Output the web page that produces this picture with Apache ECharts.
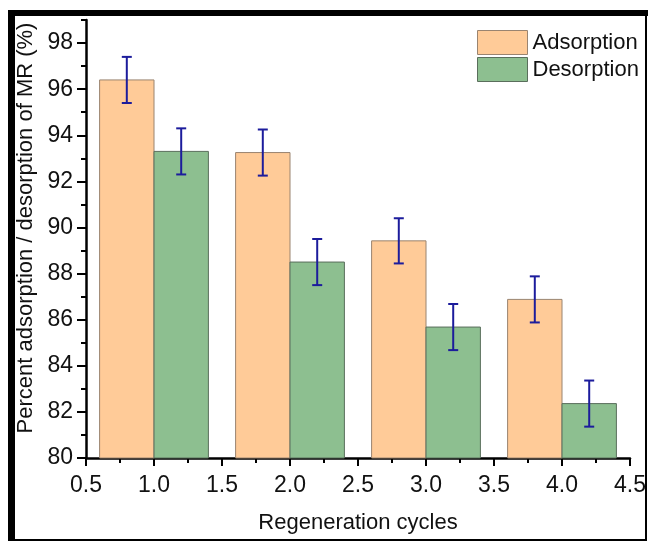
<!DOCTYPE html>
<html>
<head>
<meta charset="utf-8">
<script src="https://cdn.jsdelivr.net/npm/echarts@6/dist/echarts.min.js"></script>
<style>
  html, body { margin: 0; padding: 0; background: #fff; }
  #chart { width: 650px; height: 541px; }
</style>
</head>
<body>
<div id="chart"></div>
<script>
// regeneration cycle data
var adsX = [0.8, 1.8, 2.8, 3.8];
var desX = [1.2, 2.2, 3.2, 4.2];
var adsorption = [96.4, 93.25, 89.42, 86.88];
var desorption = [93.3, 88.5, 85.68, 82.36];
var adsErr = [1.0, 1.0, 0.98, 1.0];
var desErr = [1.0, 1.0, 1.0, 1.0];

var yMajorTicks = [80, 82, 84, 86, 88, 90, 92, 94, 96, 98];

var FONT = 'Liberation Sans';
var BAR_W = 0.4; // width of one bar in x units

function makeRows(xs, ys, errs) {
    var rows = [];
    for (var i = 0; i < xs.length; i++) {
        rows.push([xs[i], ys[i], errs[i]]);
    }
    return rows;
}

function renderBar(params, api) {
    var x = api.value(0);
    var p1 = api.coord([x - BAR_W / 2, api.value(1)]);
    var p2 = api.coord([x + BAR_W / 2, 80]);
    return {
        type: 'rect',
        shape: { x: p1[0], y: p1[1], width: p2[0] - p1[0], height: p2[1] - p1[1] },
        style: api.style()
    };
}

function renderErr(params, api) {
    var x = api.value(0), y = api.value(1), e = api.value(2);
    var top = api.coord([x, y + e]);
    var bot = api.coord([x, y - e]);
    var cap = 5;
    var st = { stroke: '#1c1c9c', lineWidth: 2 };
    return {
        type: 'group',
        children: [
            { type: 'line', shape: { x1: top[0], y1: top[1], x2: bot[0], y2: bot[1] }, style: st },
            { type: 'line', shape: { x1: top[0] - cap, y1: top[1], x2: top[0] + cap, y2: top[1] }, style: st },
            { type: 'line', shape: { x1: bot[0] - cap, y1: bot[1], x2: bot[0] + cap, y2: bot[1] }, style: st }
        ]
    };
}

var chart = echarts.init(document.getElementById('chart'));

var adsStyle = { color: '#FFCB98', borderColor: '#9a8470', borderWidth: 1 };
var desStyle = { color: '#8DBF90', borderColor: '#5a6e5c', borderWidth: 1 };

var option = {
    backgroundColor: '#fff',
    animation: false,
    textStyle: { fontFamily: FONT },
    graphic: [
        { type: 'rect', shape: { x: 8, y: 10, width: 640, height: 6 }, style: { fill: '#000' } },
        { type: 'rect', shape: { x: 8, y: 10, width: 7, height: 531 }, style: { fill: '#000' } },
        { type: 'rect', shape: { x: 645, y: 10, width: 2, height: 531 }, style: { fill: '#000' } },
        { type: 'rect', shape: { x: 8, y: 539, width: 639, height: 2 }, style: { fill: '#000' } }
    ],
    legend: {
        orient: 'vertical',
        left: 472,
        top: 25,
        itemWidth: 50,
        itemHeight: 24,
        itemGap: 2,
        icon: 'rect',
        textStyle: { fontSize: 22, color: '#111', fontFamily: FONT },
        data: [
            { name: 'Adsorption', itemStyle: adsStyle },
            { name: 'Desorption', itemStyle: desStyle }
        ]
    },
    grid: { left: 86, right: 20, top: 20, bottom: 83 },
    xAxis: {
        type: 'value',
        min: 0.5,
        max: 4.5,
        interval: 0.5,
        name: 'Regeneration cycles',
        nameLocation: 'middle',
        nameGap: 54,
        nameTextStyle: { fontSize: 22, color: '#111', fontFamily: FONT },
        axisLine: { show: true, lineStyle: { color: '#000', width: 2.5 } },
        axisTick: { show: true, length: 8, lineStyle: { color: '#000', width: 2 } },
        minorTick: { show: true, splitNumber: 2, length: 5, lineStyle: { color: '#000', width: 2 } },
        axisLabel: {
            fontSize: 23, color: '#111', margin: 16, fontFamily: FONT,
            formatter: function (v) { return v.toFixed(1); }
        },
        splitLine: { show: false }
    },
    yAxis: [
        {
            type: 'value',
            min: 80,
            max: 99,
            interval: 1,
            name: 'Percent adsorption / desorption of MR (%)',
            nameLocation: 'middle',
            nameGap: 49,
            nameTextStyle: { fontSize: 22, color: '#111', fontFamily: FONT, padding: [0, 0, 0, 22] },
            axisLine: { show: true, lineStyle: { color: '#000', width: 2.5 } },
            axisTick: { show: true, length: 5, lineStyle: { color: '#000', width: 2 } },
            axisLabel: {
                fontSize: 23, color: '#111', margin: 13, fontFamily: FONT,
                customValues: yMajorTicks
            },
            splitLine: { show: false }
        },
        {
            // long ticks at the labelled values
            type: 'value',
            min: 80,
            max: 99,
            position: 'left',
            axisLine: { show: false },
            axisTick: { show: true, length: 9, customValues: yMajorTicks, lineStyle: { color: '#000', width: 2 } },
            axisLabel: { show: false },
            splitLine: { show: false }
        }
    ],
    series: [
        {
            name: 'Adsorption',
            type: 'custom',
            renderItem: renderBar,
            itemStyle: adsStyle,
            encode: { x: 0, y: 1 },
            data: makeRows(adsX, adsorption, adsErr)
        },
        {
            name: 'Desorption',
            type: 'custom',
            renderItem: renderBar,
            itemStyle: desStyle,
            encode: { x: 0, y: 1 },
            data: makeRows(desX, desorption, desErr)
        },
        {
            name: 'adsErr',
            type: 'custom',
            renderItem: renderErr,
            encode: { x: 0, y: 1 },
            z: 5,
            data: makeRows(adsX, adsorption, adsErr)
        },
        {
            name: 'desErr',
            type: 'custom',
            renderItem: renderErr,
            encode: { x: 0, y: 1 },
            z: 5,
            data: makeRows(desX, desorption, desErr)
        }
    ]
};

chart.setOption(option);
window.onresize = chart.resize;
</script>
</body>
</html>
